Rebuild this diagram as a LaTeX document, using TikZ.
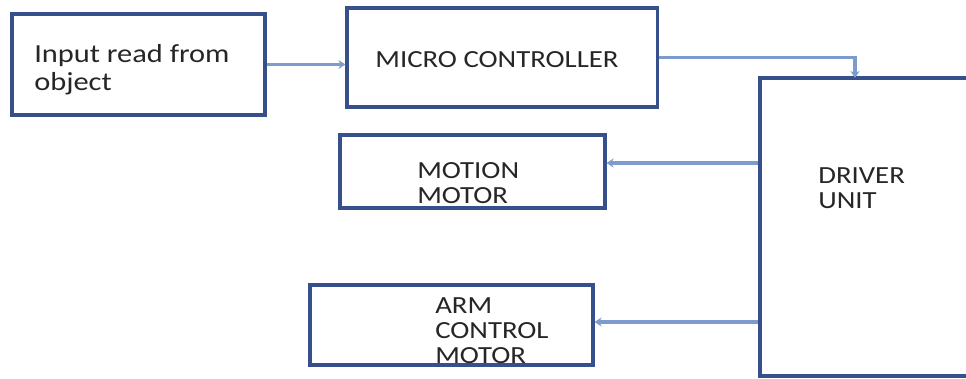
\documentclass[tikz,border=0pt]{standalone}
\usepackage{fontspec}
\setmainfont{Carlito}[FakeStretch=1.17]
\usetikzlibrary{arrows.meta}
\definecolor{boxblue}{RGB}{55,80,140}
\definecolor{linkblue}{RGB}{125,155,205}
\tikzset{every node/.style={font=\fontsize{17.5}{17.8}\selectfont, text=black!85}}

\begin{document}
\begin{tikzpicture}[x=0.025cm,y=-0.025cm,
        blk/.style={draw=boxblue,line width=2.2pt,fill=white,inner sep=0pt},
        lbl/.style={align=left,inner sep=0pt,anchor=north west},
        link/.style={draw=linkblue,line width=2.2pt,-{Stealth[length=5pt,width=6.5pt]}}]
    \useasboundingbox (0,0) rectangle (966,379);
    \clip (0,0) rectangle (966,379);
    % boxes
    \node[blk,minimum width=6.325cm,minimum height=2.525cm] (inp) at (138.5,64.5) {};
    \node[blk,minimum width=7.75cm,minimum height=2.475cm] (mcu) at (502,57.5) {};
    \node[blk,minimum width=6.625cm,minimum height=1.825cm] (mot) at (472.5,171.5) {};
    \node[blk,minimum width=7.075cm,minimum height=2cm] (arm) at (451.5,325) {};
    \node[blk,minimum width=5.5cm,minimum height=7.45cm] (drv) at (870,227) {};
    % texts
    \node[lbl,font=\fontsize{18.5}{19.9}\selectfont] (inpt) at (34,44) {Input read from\\object};
    \node[inner sep=0pt] (mcut) at (497,60) {MICRO CONTROLLER};
    \node[lbl] (mott) at (417,162) {MOTION\\MOTOR};
    \node[lbl] (armt) at (435,297) {ARM\\CONTROL\\MOTOR};
    \node[lbl] (drvt) at (818,167) {DRIVER\\UNIT};
    % links
    \coordinate (top) at (855,78);
    \draw[link] (inp.east) -- (inp.east -| mcu.west);
    \draw[link] (mcu.east) -| (top);
    \draw[link] (drv.west |- 0,163) -- (mot.east |- 0,163);
    \draw[link] (drv.west |- 0,322) -- (arm.east |- 0,322);
\end{tikzpicture}
\end{document}
